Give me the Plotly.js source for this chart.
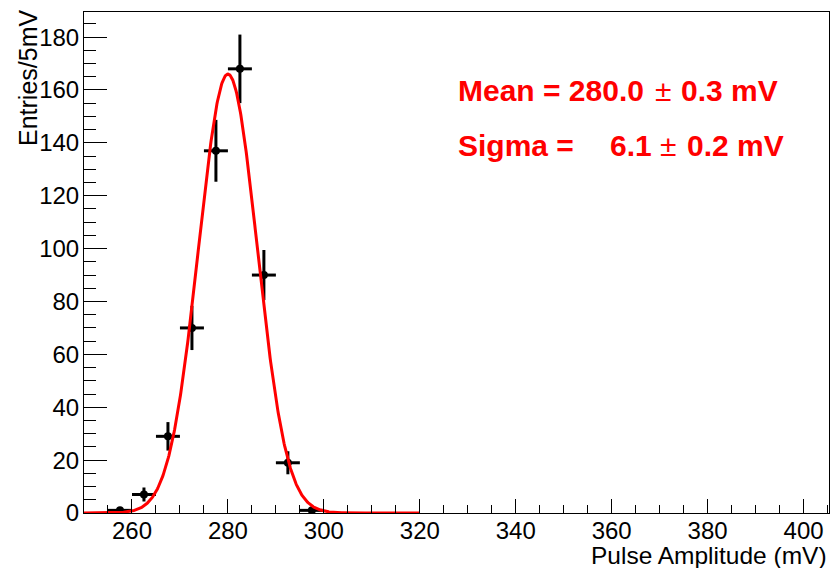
<!DOCTYPE html>
<html>
<head>
<meta charset="utf-8">
<script src="https://cdn.plot.ly/plotly-3.0.1.min.js"></script>
<style>html,body{margin:0;padding:0;background:#fff;}#chart{width:830px;height:568px;}</style>
</head>
<body>
<div id="chart"></div>
<script>
// Histogram bins (5 mV wide), centres and counts
const binCenters = [257.5, 262.5, 267.5, 272.5, 277.5, 282.5, 287.5, 292.5, 297.5];
const binCounts  = [1, 7, 29, 70, 137, 168, 90, 19, 1];
const binHalfWidth = 2.5;
// Gaussian fit parameters shown on the chart
const fitMean = 280.0;
const fitSigma = 6.1;
const fitAmplitude = 166;
const fitRange = [250, 320];
const xTickVals = [260, 280, 300, 320, 340, 360, 380, 400];
const yTickVals = [0, 20, 40, 60, 80, 100, 120, 140, 160, 180];
const xTitle = "Pulse Amplitude (mV)";
const yTitle = "Entries/5mV";
const meanParts = ["Mean = 280.0", "\u00B1", "0.3 mV"];
const sigmaParts = ["Sigma =", "6.1", "\u00B1", "0.2 mV"];

const errY = binCounts.map(v => Math.sqrt(v));

// fit curve sampled along its range
const fitX = [], fitY = [];
for (let i = 0; i <= 700; i++) {
  const x = fitRange[0] + (fitRange[1] - fitRange[0]) * i / 700;
  fitX.push(x);
  fitY.push(fitAmplitude * Math.exp(-0.5 * Math.pow((x - fitMean) / fitSigma, 2)));
}

const FONT = 'Liberation Sans, Arial, Helvetica, sans-serif';
const L = 84, W = 745, T = 12, H = 501;
const px = x => (x - L) / W;
const py = y => 1 - (y - T) / H;

const data = [
  {
    type: 'scatter', mode: 'markers',
    x: binCenters, y: binCounts,
    marker: {color: 'black', size: 8, symbol: 'circle'},
    error_y: {type: 'data', array: errY, visible: true, color: 'black', thickness: 3, width: 0},
    error_x: {type: 'constant', value: binHalfWidth, visible: true, color: 'black', thickness: 3, width: 0},
    hoverinfo: 'x+y'
  },
  {
    type: 'scatter', mode: 'lines',
    x: fitX, y: fitY,
    line: {color: '#ff0000', width: 3},
    hoverinfo: 'skip'
  }
];

function redText(txt, x, y, anchor, bold) {
  return {xref: 'paper', yref: 'paper', x: px(x), y: py(y), xanchor: anchor, yanchor: 'middle',
    text: bold ? '<b>' + txt + '</b>' : txt, showarrow: false,
    font: {family: FONT, size: 30, color: '#ff0000'}};
}

const layout = {
  width: 830, height: 568,
  margin: {l: L, r: 830 - L - W, t: T, b: 568 - T - H, pad: 0},
  paper_bgcolor: 'white', plot_bgcolor: 'white',
  showlegend: false,
  font: {family: FONT, color: 'black', size: 24},
  xaxis: {
    range: [250, 405.3],
    tickmode: 'array', tickvals: xTickVals,
    ticks: 'inside', ticklen: 14, tickwidth: 1, tickcolor: 'black',
    minor: {dtick: 5, tick0: 250, ticks: 'inside', ticklen: 8, tickwidth: 1, tickcolor: 'black', showgrid: false},
    showline: true, linecolor: 'black', linewidth: 1, mirror: true,
    showgrid: false, zeroline: false,
    tickfont: {family: FONT, size: 24, color: 'black'},
    ticklabelstandoff: -4
  },
  yaxis: {
    range: [0, 189.5],
    tickmode: 'array', tickvals: yTickVals,
    ticks: 'inside', ticklen: 23, tickwidth: 1, tickcolor: 'black',
    minor: {dtick: 5, tick0: 0, ticks: 'inside', ticklen: 12, tickwidth: 1, tickcolor: 'black', showgrid: false},
    showline: true, linecolor: 'black', linewidth: 1, mirror: true,
    showgrid: false, zeroline: false,
    tickfont: {family: FONT, size: 24, color: 'black'},
    ticklabelstandoff: -1
  },
  annotations: [
    {xref: 'paper', yref: 'paper', x: px(828), y: py(541), xanchor: 'right', yanchor: 'top',
     text: xTitle, showarrow: false, borderpad: 0,
     font: {family: FONT, size: 24.5, color: 'black'}},
    {xref: 'paper', yref: 'paper', x: px(28), y: py(8), xanchor: 'center', yanchor: 'top',
     textangle: -90,
     text: yTitle, showarrow: false,
     font: {family: FONT, size: 25, color: 'black'}},
    redText(meanParts[0], 456, 90, 'left', true),
    redText(meanParts[1], 662.5, 90, 'center', false),
    redText(meanParts[2], 679, 90, 'left', true),
    redText(sigmaParts[0], 456, 146, 'left', true),
    redText(sigmaParts[1], 608, 146, 'left', true),
    redText(sigmaParts[2], 667.5, 146, 'center', false),
    redText(sigmaParts[3], 685, 146, 'left', true)
  ]
};

Plotly.newPlot('chart', data, layout, {displayModeBar: false, staticPlot: true});
</script>
</body>
</html>
